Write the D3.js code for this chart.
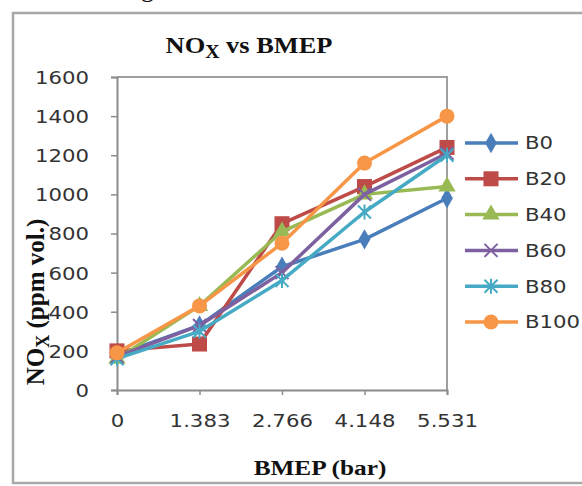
<!DOCTYPE html>
<html>
<head>
<meta charset="utf-8">
<script src="https://cdn.jsdelivr.net/npm/d3@7"></script>
<style>
  html, body { margin: 0; padding: 0; background: #fff; }
  svg { display: block; }
</style>
</head>
<body>
<svg id="chart" width="582" height="486"></svg>
<script>
// BMEP load points (category axis) and NOx readings per blend
const categories = ["0", "1.383", "2.766", "4.148", "5.531"];
const seriesNames = ["B0", "B20", "B40", "B60", "B80", "B100"];
const B0   = [180, 330, 630, 770, 980];
const B20  = [200, 235, 850, 1040, 1240];
const B40  = [160, 430, 810, 1000, 1040];
const B60  = [170, 330, 600, 1000, 1210];
const B80  = [160, 300, 560, 910, 1200];
const B100 = [190, 430, 750, 1160, 1400];
const yTicks = [0, 200, 400, 600, 800, 1000, 1200, 1400, 1600];

const colors = ["#4a7ebb", "#be4b48", "#98b954", "#7d60a0", "#46aac5", "#f79646"];
const markers = ["diamond", "square", "triangle", "x", "star", "circle"];
const series = seriesNames.map((name, i) => ({
  name, values: [B0, B20, B40, B60, B80, B100][i], color: colors[i], marker: markers[i]
}));

const svg = d3.select("#chart");
const W = 582, H = 486;
const plot = { left: 117, right: 447, top: 77, bottom: 390 };
const stretch = 1.18;

svg.append("rect").attr("width", W).attr("height", H).attr("fill", "#fff");

// partial caption glyph above the chart frame
svg.append("text").attr("x", 141).attr("y", -3)
  .attr("font-family", "Liberation Serif").attr("font-size", 26).attr("fill", "#111").text("g");

// outer chart frame
svg.append("rect").attr("x", 13).attr("y", 13).attr("width", W + 10).attr("height", 470)
  .attr("fill", "#fff").attr("stroke", "#a8a8a8").attr("stroke-width", 2.5);

const x = d3.scalePoint().domain(categories).range([plot.left, plot.right]);
const y = d3.scaleLinear().domain([0, 1600]).range([plot.bottom, plot.top]);

// plot area border (top and right)
svg.append("path")
  .attr("d", `M${plot.left},${plot.top}H${plot.right}V${plot.bottom}`)
  .attr("fill", "none").attr("stroke", "#a0a0a0").attr("stroke-width", 2);

const labelFont = "DejaVu Sans";

// y axis
const yAxis = svg.append("g").attr("transform", `translate(${plot.left},0)`)
  .call(d3.axisLeft(y).tickValues(yTicks).tickSize(6).tickPadding(22).tickFormat(d3.format("d")));
yAxis.select(".domain").attr("stroke", "#8c8c8c").attr("stroke-width", 2);
yAxis.selectAll(".tick line").attr("stroke", "#8c8c8c").attr("stroke-width", 1.5);
yAxis.selectAll(".tick text")
  .attr("font-family", labelFont).attr("font-size", 18).attr("fill", "#333")
  .attr("dy", "0.36em")
  .attr("transform", function () { const tx = +d3.select(this).attr("x"); return `translate(${tx},0) scale(${stretch},1) translate(${-tx},0)`; });

// x axis
const xAxis = svg.append("g").attr("transform", `translate(0,${plot.bottom})`)
  .call(d3.axisBottom(x).tickSize(5).tickPadding(19));
xAxis.select(".domain").attr("stroke", "#8c8c8c").attr("stroke-width", 2);
xAxis.selectAll(".tick line").attr("stroke", "#8c8c8c").attr("stroke-width", 1.5);
xAxis.selectAll(".tick text")
  .attr("font-family", labelFont).attr("font-size", 18).attr("fill", "#333")
  .attr("transform", `scale(${stretch},1)`);

// marker drawing
function drawMarker(g, type, color) {
  const s = 7.5;
  if (type === "diamond") {
    g.append("path").attr("d", d3.symbol(d3.symbolDiamond, 120)()).attr("fill", color);
  } else if (type === "square") {
    g.append("rect").attr("x", -s).attr("y", -s).attr("width", 2 * s).attr("height", 2 * s).attr("fill", color);
  } else if (type === "triangle") {
    g.append("path").attr("d", d3.symbol(d3.symbolTriangle, 130)()).attr("fill", color);
  } else if (type === "circle") {
    g.append("circle").attr("r", 7.5).attr("fill", color);
  } else if (type === "x" || type === "star") {
    const a = 6.5;
    let d = `M${-a},${-a}L${a},${a}M${-a},${a}L${a},${-a}`;
    if (type === "star") d += `M0,${-a - 1}V${a + 1}`;
    g.append("path").attr("d", d).attr("stroke", color).attr("stroke-width", 2).attr("fill", "none");
  }
}

const line = d3.line().x((d, i) => x(categories[i])).y(d => y(d));

series.forEach(s => {
  const g = svg.append("g");
  g.append("path").datum(s.values).attr("d", line)
    .attr("fill", "none").attr("stroke", s.color).attr("stroke-width", 3.5)
    .attr("stroke-linejoin", "round");
  s.values.forEach((v, i) => {
    const m = g.append("g").attr("transform", `translate(${x(categories[i])},${y(v)})`);
    drawMarker(m, s.marker, s.color);
  });
});

// legend
const legend = svg.append("g");
series.forEach((s, i) => {
  const ly = 143 + i * 35.8;
  const row = legend.append("g").attr("transform", `translate(0,${ly})`);
  row.append("line").attr("x1", 465).attr("x2", 518).attr("y1", 0).attr("y2", 0)
    .attr("stroke", s.color).attr("stroke-width", 3.5);
  const m = row.append("g").attr("transform", "translate(491,0)");
  drawMarker(m, s.marker, s.color);
  row.append("text").attr("transform", `translate(525,0) scale(${stretch},1)`)
    .attr("dy", "0.36em")
    .attr("font-family", labelFont).attr("font-size", 18).attr("fill", "#333").text(s.name);
});

// chart title
const title = svg.append("text")
  .attr("transform", `translate(249,53) scale(1.1,1)`)
  .attr("text-anchor", "middle")
  .attr("font-family", "Liberation Serif").attr("font-weight", "bold").attr("font-size", 24).attr("fill", "#111");
title.append("tspan").text("NO");
title.append("tspan").attr("font-size", 18).attr("dy", 5).text("X");
title.append("tspan").attr("dy", -5).text(" vs BMEP");

// y axis title
const yTitle = svg.append("text")
  .attr("transform", "translate(44,302) rotate(-90)")
  .attr("text-anchor", "middle")
  .attr("font-family", "Liberation Serif").attr("font-weight", "bold").attr("font-size", 25).attr("fill", "#111");
yTitle.append("tspan").text("NO");
yTitle.append("tspan").attr("font-size", 18).attr("dy", 5).text("X");
yTitle.append("tspan").attr("dy", -5).text(" (ppm vol.)");

// x axis title
svg.append("text")
  .attr("transform", "translate(320,475) scale(1.15,1)")
  .attr("text-anchor", "middle")
  .attr("font-family", "Liberation Serif").attr("font-weight", "bold").attr("font-size", 22).attr("fill", "#111")
  .text("BMEP (bar)");
</script>
</body>
</html>
